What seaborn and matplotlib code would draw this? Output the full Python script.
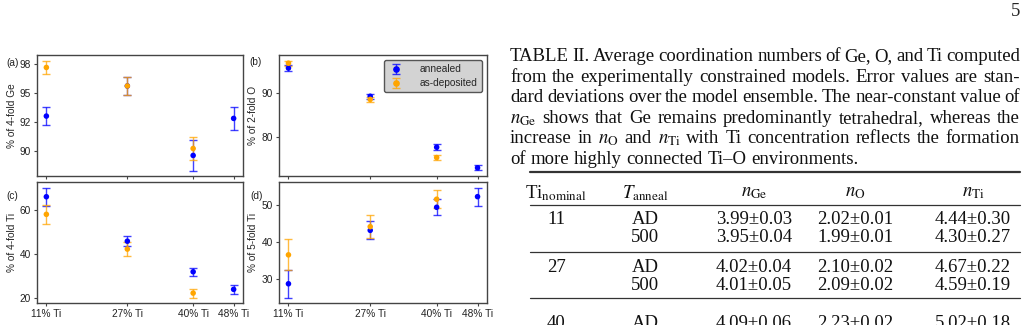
import numpy as np
import pandas as pd
import matplotlib
matplotlib.use("Agg")
import matplotlib.pyplot as plt
import seaborn as sns
from matplotlib.lines import Line2D
from matplotlib.legend_handler import HandlerTuple
from matplotlib.ticker import StrMethodFormatter

# -----------------------------
# Data
# -----------------------------
ti_pct = [11, 27, 40, 48]
ti_dep = [11, 27, 40]
ti_labels = ["11% Ti", "27% Ti", "40% Ti", "48% Ti"]

ge4_ann = [93.0, 95.6, 89.6, 92.8]
ge4_ann_err = [0.8, 0.8, 1.3, 1.0]
ge4_dep = [97.2, 95.6, 90.2]
ge4_dep_err = [0.6, 0.75, 1.0]

o2_ann = [95.5, 89.2, 77.8, 73.2]
o2_ann_err = [0.6, 0.6, 0.7, 0.6]
o2_dep = [96.6, 88.5, 75.5]
o2_dep_err = [0.6, 0.5, 0.6]

ti4_ann = [66.2, 46.0, 32.1, 24.1]
ti4_ann_err = [4.2, 2.4, 1.9, 1.9]
ti4_dep = [58.2, 42.4, 22.4]
ti4_dep_err = [4.4, 3.2, 2.0]

ti5_ann = [28.6, 43.2, 49.5, 52.4]
ti5_ann_err = [3.75, 2.45, 2.2, 2.5]
ti5_dep = [36.5, 44.2, 51.7]
ti5_dep_err = [4.2, 3.1, 2.4]

ylabels = ["% of 4-fold Ge", "% of 2-fold O", "% of 4-fold Ti", "% of 5-fold Ti"]
panel_tags = ["(a)", "(b)", "(c)", "(d)"]
yticks = [[90, 92.5, 95, 97.5], [80, 90], [20, 40, 60], [30, 40, 50]]

caption_lines = [
    "TABLE II. Average coordination numbers of Ge, O, and Ti computed",
    "from the experimentally constrained models. Error values are stan-",
    "dard deviations over the model ensemble. The near-constant value of",
    r"$n_\mathrm{Ge}$ shows that Ge remains predominantly tetrahedral, whereas the",
    r"increase in $n_\mathrm{O}$ and $n_\mathrm{Ti}$ with Ti concentration reflects the formation",
    "of more highly connected Ti\u2013O environments.",
]
table_header = [r"Ti$_\mathrm{nominal}$", r"$T_\mathrm{anneal}$", r"$n_\mathrm{Ge}$",
                r"$n_\mathrm{O}$", r"$n_\mathrm{Ti}$"]
table_rows = [
    ["11", "AD", "3.99\u00b10.03", "2.02\u00b10.01", "4.44\u00b10.30"],
    ["", "500", "3.95\u00b10.04", "1.99\u00b10.01", "4.30\u00b10.27"],
    ["27", "AD", "4.02\u00b10.04", "2.10\u00b10.02", "4.67\u00b10.22"],
    ["", "500", "4.01\u00b10.05", "2.09\u00b10.02", "4.59\u00b10.19"],
    ["40", "AD", "4.09\u00b10.06", "2.23\u00b10.02", "5.02\u00b10.18"],
]

# -----------------------------
# Style
# -----------------------------
sns.set_theme(style="ticks")
plt.rcParams["font.family"] = ["Liberation Sans", "DejaVu Sans"]
plt.rcParams["mathtext.fontset"] = "stix"
plt.rcParams["axes.edgecolor"] = "#444444"
plt.rcParams["axes.linewidth"] = 1.0
plt.rcParams["xtick.color"] = "#444444"
plt.rcParams["ytick.color"] = "#444444"
plt.rcParams["xtick.labelcolor"] = "#222222"
plt.rcParams["ytick.labelcolor"] = "#222222"
plt.rcParams["xtick.major.size"] = 2.5
plt.rcParams["ytick.major.size"] = 2.5
plt.rcParams["xtick.major.width"] = 0.8
plt.rcParams["ytick.major.width"] = 0.8

W, H = 1028, 325
fig = plt.figure(figsize=(W / 100, H / 100), dpi=100)

colors = {"annealed": "blue", "as-deposited": "orange"}
FS = 7.3

panels = [
    (ge4_ann, ge4_ann_err, ge4_dep, ge4_dep_err),
    (o2_ann, o2_ann_err, o2_dep, o2_dep_err),
    (ti4_ann, ti4_ann_err, ti4_dep, ti4_dep_err),
    (ti5_ann, ti5_ann_err, ti5_dep, ti5_dep_err),
]
# pixel boxes: left, right, top, bottom
boxes = [(37, 243, 55, 176), (279, 487, 55, 176), (37, 243, 182, 303), (279, 487, 182, 303)]
tag_pos = [(6, 63), (249, 62), (6, 196), (250, 196)]

for i, (ann, ann_err, dep, dep_err) in enumerate(panels):
    l, r, t, b = boxes[i]
    ax = fig.add_axes([l / W, 1 - b / H, (r - l) / W, (b - t) / H])

    df = pd.DataFrame({
        "ti": ti_pct + ti_dep,
        "val": ann + dep,
        "state": ["annealed"] * len(ann) + ["as-deposited"] * len(dep),
    })

    handles = []
    for state, x, y, e in [("annealed", ti_pct, ann, ann_err), ("as-deposited", ti_dep, dep, dep_err)]:
        eb = ax.errorbar(x, y, yerr=e, fmt="none", ecolor=colors[state], elinewidth=1.0,
                         capsize=2.9, capthick=1.0, alpha=0.75, zorder=2)
        dot = Line2D([], [], ls="none", marker="o", ms=3.8, color=colors[state])
        handles.append((eb, dot))

    sns.scatterplot(data=df, x="ti", y="val", hue="state", palette=colors, s=16,
                    edgecolor="none", linewidth=0, legend=False, ax=ax, zorder=3)

    ax.set_xticks(ti_pct)
    if i >= 2:
        ax.set_xticklabels(ti_labels, fontsize=FS)
    else:
        ax.set_xticklabels([])
    ax.set_yticks(yticks[i])
    ax.yaxis.set_major_formatter(StrMethodFormatter("{x:.0f}"))
    ax.tick_params(axis="both", labelsize=FS, pad=2)
    ax.set_xlabel("")
    ax.set_ylabel(ylabels[i], fontsize=FS)
    ax.yaxis.set_label_coords(-0.098 if i % 2 == 0 else -0.10, 0.5)

    fig.text(tag_pos[i][0] / W, 1 - tag_pos[i][1] / H, panel_tags[i], fontsize=FS,
             va="center", ha="left", color="#222222")

    if i == 1:
        ax.legend(handles, ["annealed", "as-deposited"], handler_map={tuple: HandlerTuple()},
                  loc="upper right", fontsize=FS, frameon=True, fancybox=True,
                  facecolor="#d3d3d3", edgecolor="#555555", framealpha=1.0,
                  handlelength=1.6, handletextpad=1.6, borderpad=0.4, labelspacing=0.4)

# -----------------------------
# Caption and table (right side)
# -----------------------------
serif = ["Liberation Serif", "DejaVu Serif"]
TFS = 13.5
fig.text(1020 / W, 1 - 12 / H, "5", fontsize=TFS, family=serif, ha="right", va="center")

fig.canvas.draw()
rend = fig.canvas.get_renderer()
x0, x1 = 510, 1020
base0, step = 61, 20.6

sp = fig.text(0, 0, "a a", fontsize=TFS, family=serif)
sp2 = fig.text(0, 0, "aa", fontsize=TFS, family=serif)
space_w = sp.get_window_extent(rend).width - sp2.get_window_extent(rend).width
sp.remove()
sp2.remove()

for k, line in enumerate(caption_lines):
    y = 1 - (base0 + k * step) / H
    words = line.split(" ")
    texts = [fig.text(0, y, w, fontsize=TFS, family=serif, va="baseline", ha="left", color="#111111")
             for w in words]
    widths = [tx.get_window_extent(rend).width for tx in texts]
    if k < len(caption_lines) - 1:
        gap = (x1 - x0 - sum(widths)) / (len(words) - 1)
    else:
        gap = space_w
    xp = x0
    for tx, wd in zip(texts, widths):
        tx.set_x(xp / W)
        xp += wd + gap

# rules
for yy, lw in [(172, 1.6), (205, 0.9), (252, 0.9), (298, 0.9)]:
    fig.add_artist(Line2D([530 / W, 1020 / W], [1 - yy / H, 1 - yy / H], color="#333333", lw=lw))

col_x = [556, 645, 754, 855, 973]
fig_y_header = 193
for cx, txt in zip(col_x, table_header):
    fig.text(cx / W, 1 - fig_y_header / H, txt, fontsize=TFS, family=serif, ha="center", va="center",
             color="#111111")
row_y = [220, 238, 267, 285, 324]
for ry, row in zip(row_y, table_rows):
    for cx, txt in zip(col_x, row):
        fig.text(cx / W, 1 - ry / H, txt, fontsize=TFS, family=serif, ha="center", va="center",
                 color="#111111")

fig.savefig("out.png", dpi=100)
